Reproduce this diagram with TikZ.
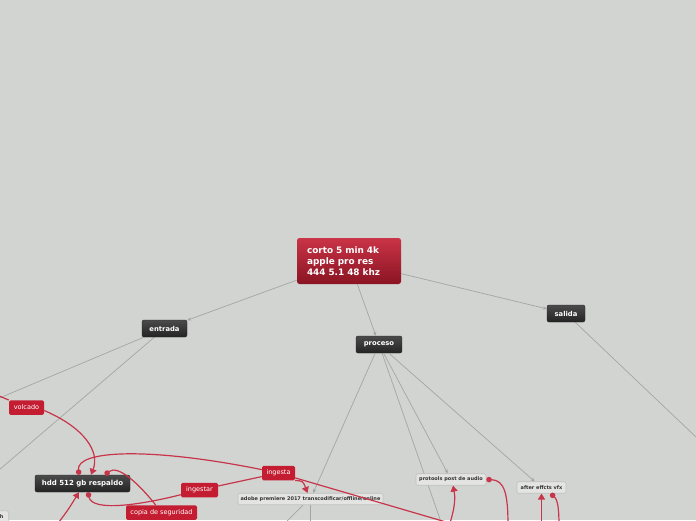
\documentclass[tikz,border=0pt]{standalone}
\usepackage{fontspec}
\setmainfont{DejaVu Sans}
\usetikzlibrary{arrows.meta}
\definecolor{bg}{HTML}{D2D4D1}
\definecolor{linkgray}{HTML}{A4A6A3}
\definecolor{relred}{HTML}{C8354A}
\definecolor{boxred}{HTML}{C41D32}
\definecolor{darktop}{HTML}{4A4A4A}
\definecolor{darkbot}{HTML}{242424}
\begin{document}
\begin{tikzpicture}[x=1pt,y=-1pt,
   rootbox/.style={rounded corners=2.5pt,top color=boxred!90!white,bottom color=boxred!70!black,
      text=white,font=\fontsize{8.9}{11.3}\selectfont\bfseries,align=left,text width=84pt,
      inner xsep=10pt,minimum height=46pt},
   darkbox/.style={rounded corners=2pt,top color=darktop,bottom color=darkbot,draw=darkbot,
      text=white,font=\fontsize{6.8}{8}\selectfont\bfseries,inner sep=0pt,minimum height=17pt},
   redbox/.style={rounded corners=1.5pt,fill=boxred,text=white,
      font=\fontsize{6.5}{8}\selectfont,inner sep=0pt,minimum height=14.5pt},
   lightbox/.style={rounded corners=1.5pt,fill=bg!60!white,draw=linkgray!70!white,line width=0.6pt,
      text=black!80,font=\fontsize{5}{6}\selectfont\bfseries,inner sep=0pt,minimum height=11.5pt},
   link/.style={draw=linkgray,line width=0.7pt,-{Stealth[length=4pt,width=3.5pt]}},
   plain/.style={draw=linkgray,line width=0.7pt},
   rel/.style={draw=relred,line width=1.2pt},
   relto/.style={rel,-{Triangle[length=6pt,width=7pt]}},
   relfrom/.style={rel,{Circle[length=5.5pt]}-}]
\useasboundingbox (0,0) rectangle (696,520);
\clip (0,0) rectangle (696,520);
\fill[bg] (0,0) rectangle (696,520);

\coordinate (leftA) at (-10,402);
\coordinate (leftB) at (-8,476);
\coordinate (rightA) at (706,446.5);
\coordinate (downA) at (441,522);
\coordinate (downB) at (284,524);
\coordinate (downC) at (310.5,524);
\coordinate (leftV) at (-8,393);
\coordinate (downD) at (56,526);
\coordinate (downE) at (449,526);
\coordinate (downF) at (508,526);
\coordinate (downG) at (541.5,526);
\coordinate (downH) at (559,526);
\coordinate (downI) at (446,522);

\draw[plain] (164.5,328.5) -- (leftA);
\draw[plain] (164.5,328.5) -- (leftB);
\draw[plain] (566,313.5) -- (rightA);
\draw[plain] (379,344.5) -- (downA);
\draw[plain] (303,505) -- (downB);
\draw[plain] (310.5,505) -- (downC);

\node[rootbox] (root) at (349,261) {corto 5 min 4k\\apple pro res\\444 5.1 48 khz};
\node[darkbox,minimum width=45pt] (entrada) at (164.5,328.5) {entrada};
\node[darkbox,minimum width=46pt] (proceso) at (379,344.5) {proceso};
\node[darkbox,minimum width=38pt] (salida) at (566,313.5) {salida};
\node[darkbox,minimum width=95pt,font=\fontsize{7}{8}\selectfont\bfseries] (hdd) at (82.5,483.5) {hdd 512 gb respaldo};
\node[lightbox,minimum width=145pt] (premiere) at (310.5,499) {adobe premiere 2017 transcodificar/offline/online};
\node[lightbox,minimum width=70pt] (protools) at (451,479.5) {protools post de audio};
\node[lightbox,minimum width=49pt] (aftereff) at (541.5,487.5) {after effcts vfx};
\node[lightbox,anchor=north east,minimum width=14pt,minimum height=12pt] (switch) at (9,510.5) {h};

\draw[link] (root) -- (entrada);
\draw[link] (root) -- (proceso);
\draw[link] (root) -- (salida);
\draw[link] (proceso) -- (premiere);
\draw[link] (proceso) -- (protools);
\draw[link] (proceso) -- (aftereff);

\node[redbox,minimum width=35pt] (volcado) at (26.5,407.5) {volcado};
\node[redbox,minimum width=37pt] (ingestar) at (199.5,490) {ingestar};
\node[redbox,minimum width=71pt] (copia) at (161.5,512.5) {copia de seguridad};
\node[redbox,minimum width=33pt] (ingesta) at (278.5,473) {ingesta};

\draw[rel] (leftV) -- (volcado);
\draw[relto] ([yshift=-3pt]volcado.east) .. controls (85,428) and (100,452) .. ([xshift=8.5pt]hdd.north);
\draw[relfrom] ([xshift=-3.5pt]hdd.north) .. controls (76,450) and (150,447) .. (ingesta);
\draw[rel] (ingesta) -- (downI);
\draw[relfrom] ([xshift=5.5pt]hdd.south) .. controls (92,512) and (140,505) .. (ingestar);
\draw[rel] (ingestar) -- (ingesta);
\draw[relfrom] ([xshift=22.5pt]hdd.north) .. controls (118,464) and (140,485) .. (copia);
\draw[relto] (downD) .. controls (68,510) .. ([xshift=-3.5pt]hdd.south);
\draw[relto] (ingesta.south east) .. controls (303,481) .. ([xshift=-3pt]premiere.north);
\draw[relto] (downE) .. controls (456,505) and (455,496) .. ([xshift=2pt]protools.south);
\draw[relfrom] (protools.east) .. controls (505,480) and (508,495) .. (downF);
\draw[relto] (downG) -- (aftereff.south);
\draw[relfrom] ([xshift=9pt]aftereff.south) .. controls (558,500) and (559,510) .. (downH);
\end{tikzpicture}
\end{document}
